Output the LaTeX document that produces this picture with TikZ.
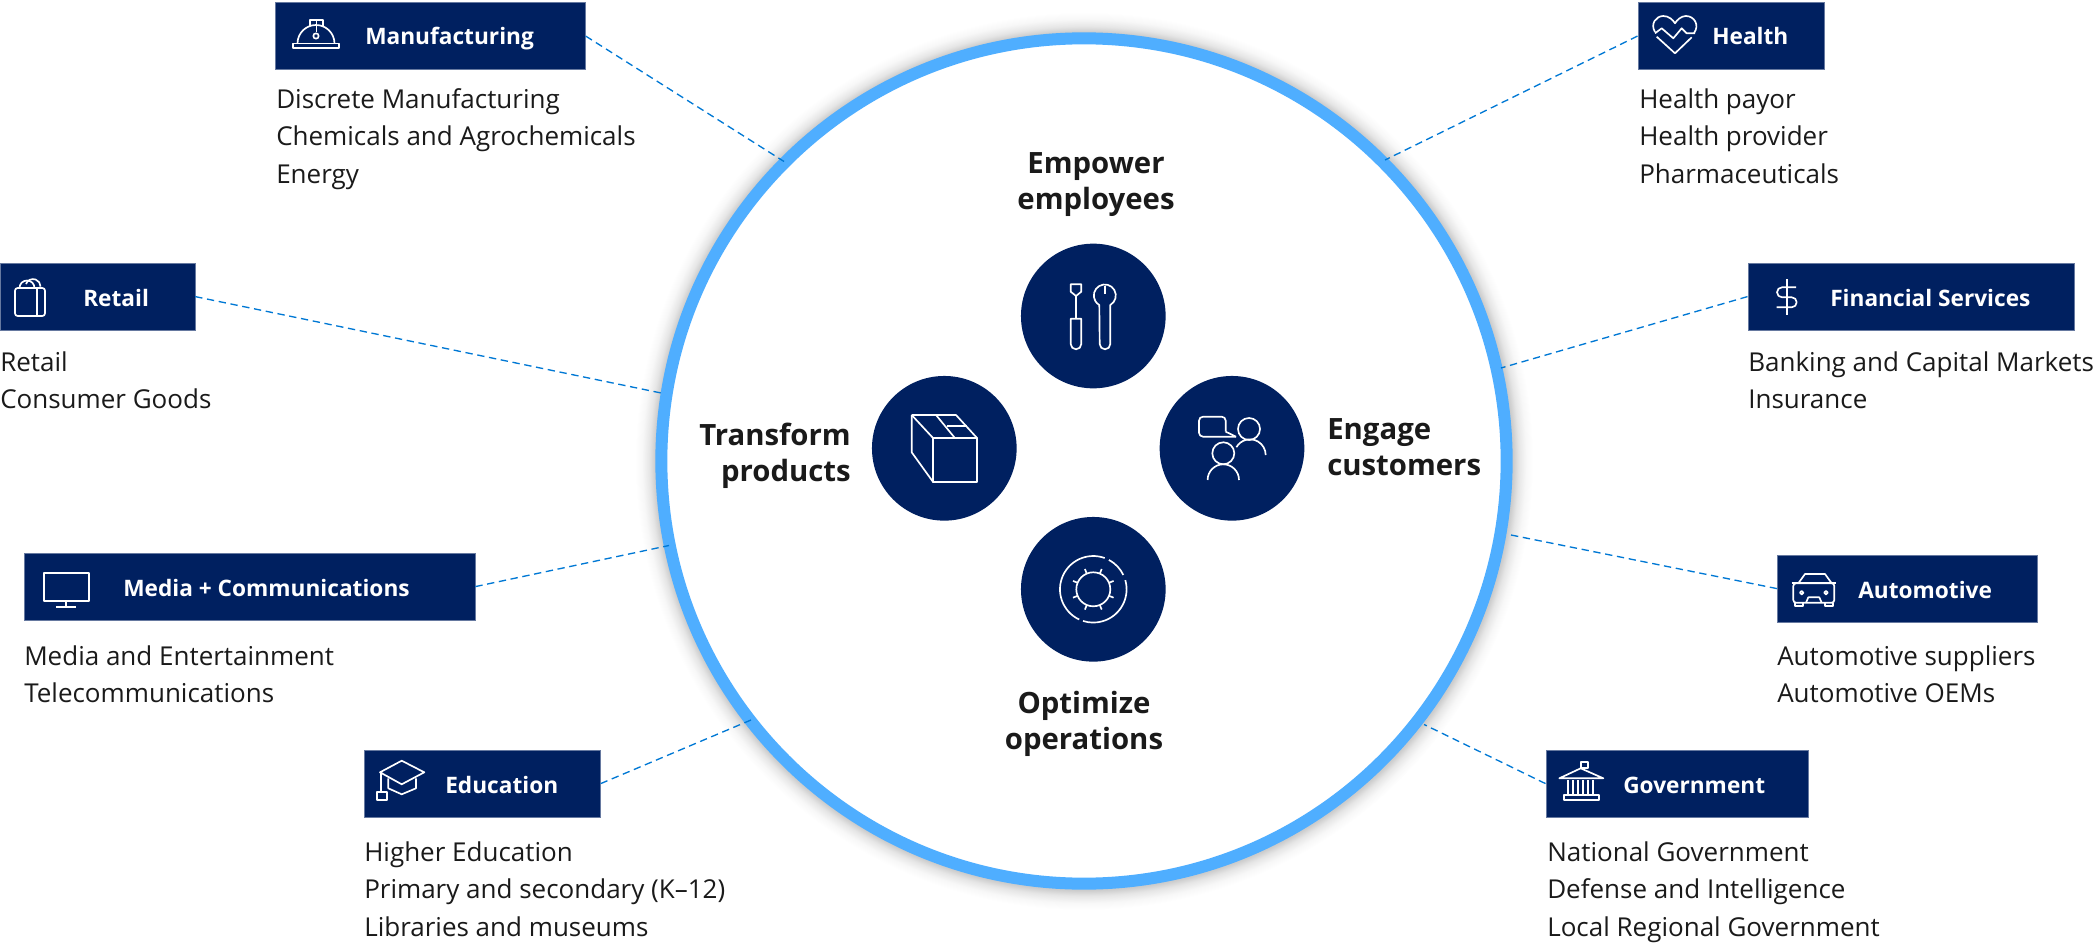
\documentclass[tikz,border=0pt]{standalone}
\usepackage{fontspec}
\setmainfont{Open Sans}
\usepackage{tikz}
\definecolor{navy}{HTML}{002060}
\definecolor{ringblue}{HTML}{4FAEFF}
\definecolor{dashblue}{HTML}{0078D4}
\definecolor{inktext}{HTML}{1A1A1A}
\pgfdeclareradialshading{ringshadow}{\pgfpoint{0bp}{0bp}}{color(0bp)=(black!20); color(23.89bp)=(black!20); color(24.2bp)=(black!10); color(24.6bp)=(black!3); color(25bp)=(white); color(50bp)=(white)}
\tikzset{
  catbox/.style={fill=navy,draw=navy!60,line width=0.4pt,inner sep=0pt,anchor=north west},
  cattext/.style={text=white,font=\fontsize{17}{20}\selectfont\bfseries,anchor=west,inner sep=0pt,text height=12pt,text depth=0pt},
  subtext/.style={text=inktext,font=\fontsize{19.5}{28.1}\selectfont,align=left,anchor=north west,inner sep=0pt},
  bigtext/.style={text=inktext,font=\fontsize{22}{27}\selectfont\bfseries,inner sep=0pt},
  valuedisc/.style={circle,fill=navy,minimum size=108.5pt,inner sep=0pt},
  icon/.style={draw=white,line width=1.25pt,line join=round},
  dashlink/.style={draw=dashblue,line width=1pt,dash pattern=on 5.5pt off 3.5pt}
}
\begin{document}
\begin{tikzpicture}[x=0.75pt,y=0.75pt,yscale=-1,xscale=1]
\useasboundingbox (0,0) rectangle (2100,945);

%Big ring
\shade [shading=ringshadow] (1084,461) circle (449);
\node [circle,draw=ringblue,fill=white,line width=9pt,minimum size=634pt,inner sep=0pt,outer sep=0pt] (ring) at (1084,461) {};

%Category boxes
\node [catbox,minimum width=233pt,minimum height=50pt] (manufacturing) at (274.5,2.5) {};
\node [catbox,minimum width=146pt,minimum height=50pt] (retail) at (0,263) {};
\node [catbox,minimum width=338.5pt,minimum height=50pt] (media) at (23.5,553) {};
\node [catbox,minimum width=177.5pt,minimum height=50pt] (education) at (363.5,750) {};
\node [catbox,minimum width=139.5pt,minimum height=50pt] (health) at (1637.5,2.5) {};
\node [catbox,minimum width=245pt,minimum height=50pt] (financial) at (1747.5,263) {};
\node [catbox,minimum width=195pt,minimum height=50pt] (automotive) at (1777,555) {};
\node [catbox,minimum width=196.5pt,minimum height=50pt] (government) at (1545.5,750) {};

%Link ends on the ring
\coordinate (manufacturingend) at (784,161.5);
\coordinate (retailend) at (664,393.6);
\coordinate (mediaend) at (669,545.5);
\coordinate (educationend) at (751,720);
\coordinate (healthend) at (1385,160);
\coordinate (financialend) at (1501,368);
\coordinate (automotiveend) at (1511,535);
\coordinate (governmentend) at (1424,724.5);

%Dashed links
\draw [dashlink] (manufacturing.east) -- (manufacturingend);
\draw [dashlink] (retail.east) -- (retailend);
\draw [dashlink] (media.east) -- (mediaend);
\draw [dashlink] (education.east) -- (educationend);
\draw [dashlink] (health.west) -- (healthend);
\draw [dashlink] (financial.west) -- (financialend);
\draw [dashlink] (automotive.west) -- (automotiveend);
\draw [dashlink] (government.west) -- (governmentend);

% Box titles
\node [cattext] (manufacturingtitle) at (365,37) {Manufacturing};
\node [cattext] (retailtitle) at (83,298) {Retail};
\node [cattext] (mediatitle) at (123,588) {Media + Communications};
\node [cattext] (educationtitle) at (445,785.3) {Education};
\node [cattext] (healthtitle) at (1712,37) {Health};
\node [cattext] (financialtitle) at (1830,298) {Financial Services};
\node [cattext] (automotivetitle) at (1858,590) {Automotive};
\node [cattext] (governmenttitle) at (1623,785.3) {Government};

% Box lists
\node [subtext] (manufacturinglist) at (276,82) {\strut Discrete Manufacturing\\Chemicals and Agrochemicals\\Energy\strut};
\node [subtext] (retaillist) at (0,345) {\strut Retail\\Consumer Goods\strut};
\node [subtext] (medialist) at (24,639) {\strut Media and Entertainment\\Telecommunications\strut};
\node [subtext] (educationlist) at (364,835) {\strut Higher Education\\Primary and secondary (K–12)\\Libraries and museums\strut};
\node [subtext] (healthlist) at (1639,82) {\strut Health payor\\Health provider\\Pharmaceuticals\strut};
\node [subtext] (financiallist) at (1748,345) {\strut Banking and Capital Markets\\Insurance\strut};
\node [subtext] (automotivelist) at (1777,639) {\strut Automotive suppliers\\Automotive OEMs\strut};
\node [subtext] (governmentlist) at (1547,835) {\strut National Government\\Defense and Intelligence\\Local Regional Government\strut};

%Value discs
\node [valuedisc] (empower) at (1093.3,316) {};
\node [valuedisc] (transform) at (944.3,448.3) {};
\node [valuedisc] (engage) at (1232,448.3) {};
\node [valuedisc] (optimize) at (1093.3,589.3) {};

% Value labels
\node [bigtext,align=center] (empowerlabel) at (1096,185) {Empower\\employees};
\node [bigtext,align=right,anchor=east] (transformlabel) at (851,456) {Transform\\products};
\node [bigtext,align=left,anchor=west] (engagelabel) at (1327,447.5) {Engage\\customers};
\node [bigtext,align=center] (optimizelabel) at (1084,724) {Optimize\\operations};

%Tools icon
\draw [icon] (1070.7,284.3) -- (1081.3,284.3) -- (1081.3,291.7) -- (1076,296) -- (1070.7,291.7) -- cycle;
\draw [icon] (1076,296) -- (1076,318.7);
\draw [icon] (1070.7,318.7) -- (1081.3,318.7) -- (1081.3,344) arc (0:180:5.3) -- cycle;
\draw [icon] (1110.3,305) arc (60:-240:11) -- (1099.7,344) arc (180:0:5.3) -- cycle;
\draw [icon] (1105,285.7) -- (1105,294);

%Box icon
\draw [icon] (933.3,438.3) rectangle (977.3,482.3);
\draw [icon] (911.7,415) -- (956,415) -- (977.3,438.3);
\draw [icon] (911.7,415) -- (933.3,438.3);
\draw [icon] (911.7,415) -- (911.7,452.3) -- (933.3,482.3);
\draw [icon] (936,415) -- (954.3,437.3);
\draw [icon] (946.7,426.3) -- (966.7,426.3);

%People icon
\draw [icon,rounded corners=3pt] (1225.7,431.7) -- (1225.7,416.7) -- (1199,416.7) -- (1199,436.7) -- (1236,436.7);
\draw [icon] (1225.7,431.7) -- (1236,436.7);
\draw [icon] (1249,429) circle (11);
\draw [icon] (1236.4,447.2) arc (-150:0:15.7);
\draw [icon] (1223.3,453.3) circle (11);
\draw [icon] (1207.6,480) arc (180:360:15.7);

%Gear icon
\draw [icon] (1108.9,559.9) arc (-62:-25.5:33.3);
\draw [icon] (1125.3,580.1) arc (-16:108:33.3);
\draw [icon] (1079.2,619.5) arc (115:290:33.3);
\draw [icon] (1093.3,589.3) circle (17);
\draw [icon] (1109,595.8) -- (1113.6,597.7) (1099.8,605) -- (1101.7,609.6) (1086.8,605) -- (1084.9,609.6) (1077.6,595.8) -- (1073,597.7);
\draw [icon] (1077.6,582.8) -- (1073,580.9) (1086.8,573.6) -- (1084.9,569) (1099.8,573.6) -- (1101.7,569) (1109,582.8) -- (1113.6,580.9);

%Helmet icon
\draw [icon] (293.3,43.5) rectangle (339,48.3);
\draw [icon] (297.5,43.5) arc (180:360:18.5);
\draw [icon] (310,26) -- (310,20) -- (323,20) -- (323,26);
\draw [icon] (316.5,20) -- (316.5,32);
\draw [icon] (316,36) circle (2.7);

%Bag icon
\draw [icon,rounded corners=2pt] (15,288) rectangle (45,316);
\draw [icon] (37.3,288) -- (37.3,316);
\draw [icon] (19.5,288) arc (180:360:7.5);
\draw [icon] (26,284) arc (200:360:7.5);

%Monitor icon
\draw [icon] (44,573.3) rectangle (88.7,601);
\draw [icon] (66,601) -- (66,607.3);
\draw [icon] (56,607.3) -- (76,607.3);

%Cap icon
\draw [icon] (380,772.3) -- (401.7,760.7) -- (424.3,772.3) -- (401.7,784.3) -- cycle;
\draw [icon] (388.3,778.3) -- (388.3,788.3) -- (401.7,794.3) -- (416,788.3) -- (416,778.3);
\draw [icon] (380.7,772.3) -- (380.7,791.7);
\draw [icon] (377.3,800) rectangle (386.7,791.7);

%Heart icon
\draw [icon] (1655,32) .. controls (1650,24) and (1656,16) .. (1663.3,16) .. controls (1669,16) and (1673,20) .. (1675,23.3) .. controls (1677,20) and (1681,16) .. (1686,16) .. controls (1694,16) and (1700,25) .. (1694,33);
\draw [icon] (1656.7,36.7) -- (1675,53.3) -- (1691.7,37.3);
\draw [icon] (1655,33.3) -- (1661.7,28.3) -- (1673.3,38.3) -- (1681.7,28.3) -- (1686.7,33.3) -- (1695,33.3);

%Dollar icon
\draw [icon] (1786.7,279) -- (1786.7,315);
\draw [icon] (1796,287.3) -- (1782,287.3) arc (270:90:5) -- (1791.7,297.3) arc (-90:90:5) -- (1776.7,307.3);

%Car icon
\draw [icon] (1798.3,583.3) -- (1805,574) -- (1825,574) -- (1831.7,583.3);
\draw [icon] (1791.7,583.3) -- (1836,583.3);
\draw [icon,rounded corners=2pt] (1793.3,583.3) rectangle (1834.3,602.7);
\draw [icon] (1795,602.7) -- (1795,606) -- (1803,606) -- (1803,602.7);
\draw [icon] (1825,602.7) -- (1825,606) -- (1833,606) -- (1833,602.7);
\draw [icon] (1801.7,592.7) circle (1.8);
\draw [icon] (1826,592.7) circle (1.8);
\draw [icon] (1806,602.7) -- (1808.3,597.3) -- (1819.3,597.3) -- (1821.7,602.7);

%Bank icon
\draw [icon] (1559.3,778.3) -- (1580.7,768.3) -- (1603.3,778.3) -- cycle;
\draw [icon] (1580.7,768.3) -- (1580.7,762.3) -- (1588.3,762.3) -- (1588.3,767.7) -- (1581,767.7);
\draw [icon] (1568.3,780) -- (1568.3,795) (1573.3,780) -- (1573.3,795) (1578.3,780) -- (1578.3,795) (1583.3,780) -- (1583.3,795) (1588.3,780) -- (1588.3,795) (1593.3,780) -- (1593.3,795);
\draw [icon] (1564,795) rectangle (1599.3,800);

\end{tikzpicture}
\end{document}
